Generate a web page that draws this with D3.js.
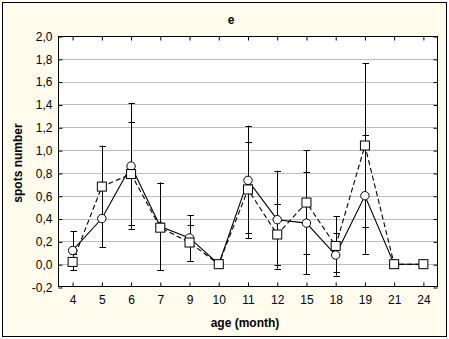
<!DOCTYPE html>
<html>
<head>
<meta charset="utf-8">
<script src="https://cdn.jsdelivr.net/npm/d3@7"></script>
<style>
  html, body { margin: 0; padding: 0; background: #ffffff; }
  svg { display: block; }
  text { font-family: "Liberation Sans", Arial, sans-serif; }
</style>
</head>
<body>
<svg id="chart" width="449" height="339"></svg>
<script>
// ---- data ----
const categories = ["4", "5", "6", "7", "9", "10", "11", "12", "15", "18", "19", "21", "24"];
const circleMean = [0.12, 0.40, 0.86, 0.33, 0.23, 0.00, 0.735, 0.39, 0.36, 0.08, 0.60, 0.00, 0.00];
const circleLo   = [-0.055, 0.15, 0.31, -0.05, 0.025, null, 0.23, -0.04, -0.09, -0.065, 0.09, null, null];
const circleHi   = [0.29, 0.68, 1.415, 0.715, 0.43, null, 1.215, 0.82, 0.81, 0.27, 1.13, null, null];
const squareMean = [0.02, 0.68, 0.79, 0.32, 0.19, 0.00, 0.655, 0.26, 0.54, 0.16, 1.04, 0.00, 0.00];
const squareLo   = [-0.05, 0.40, 0.34, -0.05, 0.03, null, 0.27, -0.005, 0.085, -0.10, 0.325, null, null];
const squareHi   = [0.09, 1.04, 1.25, 0.715, 0.34, null, 1.07, 0.53, 1.00, 0.42, 1.764, null, null];
const yTicks = [-0.2, 0.0, 0.2, 0.4, 0.6, 0.8, 1.0, 1.2, 1.4, 1.6, 1.8, 2.0];
const yTickLabels = ["-0,2", "0,0", "0,2", "0,4", "0,6", "0,8", "1,0", "1,2", "1,4", "1,6", "1,8", "2,0"];
const titleText = "e";
const xLabel = "age (month)";
const yLabel = "spots number";

// ---- layout ----
const W = 449, H = 339;
const plot = { left: 58, top: 36, right: 438, bottom: 287 };
const svg = d3.select("#chart");

const x = d3.scaleBand().domain(categories).range([plot.left, plot.right]).paddingInner(0).paddingOuter(0);
const cx = c => x(c) + x.bandwidth() / 2;
const y = d3.scaleLinear().domain([-0.2, 2.0]).range([plot.bottom, plot.top]);

// background + frame
svg.append("rect").attr("x", 0).attr("y", 0).attr("width", W).attr("height", H).attr("fill", "#ffffff");
svg.append("rect").attr("x", 2.5).attr("y", 2.5).attr("width", W - 5).attr("height", H - 5)
  .attr("fill", "#fffcee").attr("stroke", "#000").attr("stroke-width", 1);

// plot area
svg.append("rect").attr("x", plot.left).attr("y", plot.top)
  .attr("width", plot.right - plot.left).attr("height", plot.bottom - plot.top)
  .attr("fill", "#ffffff");

// gridlines
svg.append("g").selectAll("line").data(yTicks.filter(v => v > -0.2 && v < 2.0)).join("line")
  .attr("x1", plot.left).attr("x2", plot.right)
  .attr("y1", d => Math.round(y(d)) + 0.5).attr("y2", d => Math.round(y(d)) + 0.5)
  .attr("stroke", "#bdbdbd").attr("stroke-width", 1);

// axes via d3 axis generators
const yAxisL = d3.axisLeft(y).tickValues(yTicks).tickSize(-4).tickPadding(6)
  .tickFormat((d, i) => yTickLabels[i]);
const gL = svg.append("g").attr("transform", `translate(${plot.left + 0.5},0.5)`).call(yAxisL);
const yAxisR = d3.axisRight(y).tickValues(yTicks).tickSize(-4).tickFormat("");
const gR = svg.append("g").attr("transform", `translate(${plot.right - 0.5},0.5)`).call(yAxisR);
const xAxisB = d3.axisBottom(x).tickSize(-4).tickPadding(9);
const gB = svg.append("g").attr("transform", `translate(0.5,${plot.bottom - 0.5})`).call(xAxisB);
const xAxisT = d3.axisTop(x).tickSize(-4).tickFormat("");
const gT = svg.append("g").attr("transform", `translate(0.5,${plot.top + 0.5})`).call(xAxisT);
[gL, gR, gB, gT].forEach(g => {
  g.select(".domain").remove();
  g.selectAll("line").attr("stroke", "#000");
  g.selectAll("text").attr("font-size", 12).attr("fill", "#000")
    .attr("font-family", "'Liberation Sans', Arial, sans-serif");
});

// plot border
svg.append("rect").attr("x", plot.left + 0.5).attr("y", plot.top + 0.5)
  .attr("width", plot.right - plot.left - 1).attr("height", plot.bottom - plot.top - 1)
  .attr("fill", "none").attr("stroke", "#000").attr("stroke-width", 1);

// error bars
function errorBars(lo, hi) {
  const g = svg.append("g").attr("stroke", "#000").attr("stroke-width", 1);
  categories.forEach((c, i) => {
    if (lo[i] == null) return;
    const px = Math.round(cx(c)) + 0.5;
    g.append("line").attr("x1", px).attr("x2", px).attr("y1", y(hi[i])).attr("y2", y(lo[i]));
    [lo[i], hi[i]].forEach(v => {
      const py = Math.round(y(v)) + 0.5;
      g.append("line").attr("x1", px - 3).attr("x2", px + 3.5).attr("y1", py).attr("y2", py);
    });
  });
}
errorBars(circleLo, circleHi);
errorBars(squareLo, squareHi);

// lines
const line = d3.line().x((d, i) => cx(categories[i])).y(d => y(d));
svg.append("path").datum(circleMean).attr("d", line)
  .attr("fill", "none").attr("stroke", "#000").attr("stroke-width", 1.1);
svg.append("path").datum(squareMean).attr("d", line)
  .attr("fill", "none").attr("stroke", "#000").attr("stroke-width", 1.1).attr("stroke-dasharray", "5,3");

// markers
svg.append("g").selectAll("circle").data(circleMean).join("circle")
  .attr("cx", (d, i) => cx(categories[i])).attr("cy", d => y(d)).attr("r", 4.2)
  .attr("fill", "#fff").attr("stroke", "#000").attr("stroke-width", 1);
svg.append("g").selectAll("rect").data(squareMean).join("rect")
  .attr("x", (d, i) => cx(categories[i]) - 4.5).attr("y", d => y(d) - 4.5)
  .attr("width", 9).attr("height", 9)
  .attr("fill", "#fff").attr("stroke", "#000").attr("stroke-width", 1);

// titles
svg.append("text").attr("x", 231).attr("y", 24).attr("text-anchor", "middle")
  .attr("font-size", 12).attr("font-weight", "bold").text(titleText);
svg.append("text").attr("x", 245).attr("y", 327).attr("text-anchor", "middle")
  .attr("font-size", 12).attr("font-weight", "bold").text(xLabel);
svg.append("text").attr("transform", `translate(22,163) rotate(-90)`)
  .attr("text-anchor", "middle").attr("font-size", 12).attr("font-weight", "bold").text(yLabel);
</script>
</body>
</html>
